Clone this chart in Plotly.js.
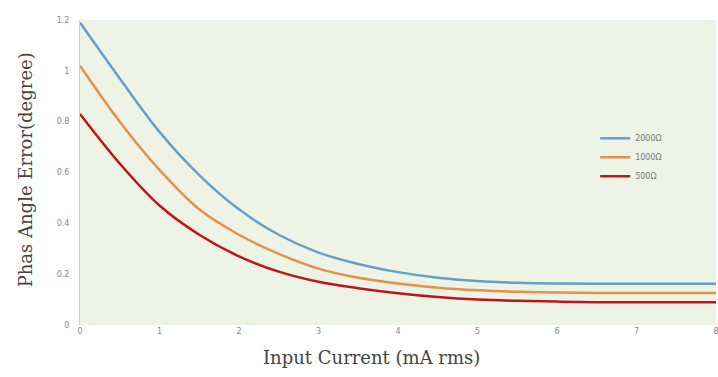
<!DOCTYPE html>
<html>
<head>
<meta charset="utf-8">
<script src="https://cdn.plot.ly/plotly-3.0.1.min.js"></script>
<style>html,body{margin:0;padding:0;background:#fff;}#chart{width:718px;height:377px;}</style>
</head>
<body>
<div id="chart"></div>
<script>
const current = [0, 0.5, 1, 1.5, 2, 2.5, 3, 3.5, 4, 4.5, 5, 5.5, 6, 6.5, 7, 7.5, 8];
const err2000 = [1.19, 0.97, 0.76, 0.59, 0.455, 0.355, 0.285, 0.24, 0.208, 0.186, 0.173, 0.166, 0.163, 0.162, 0.162, 0.162, 0.162];
const err1000 = [1.02, 0.80, 0.61, 0.455, 0.355, 0.28, 0.222, 0.186, 0.163, 0.147, 0.137, 0.131, 0.128, 0.126, 0.126, 0.126, 0.126];
const err500  = [0.83, 0.635, 0.47, 0.355, 0.27, 0.21, 0.17, 0.145, 0.125, 0.11, 0.10, 0.095, 0.092, 0.09, 0.09, 0.09, 0.09];
const seriesNames = ['2000Ω', '1000Ω', '500Ω'];
const xTicks = [0, 1, 2, 3, 4, 5, 6, 7, 8];
const yTicks = [0, 0.2, 0.4, 0.6, 0.8, 1, 1.2];
const xTitle = 'Input Current (mA rms)';
const yTitle = 'Phas Angle Error(degree)';

const colors = ['#679fc9', '#e8904a', '#c0141c'];
const ys = [err2000, err1000, err500];
const traces = ys.map((y, i) => ({
  x: current, y: y, name: seriesNames[i], type: 'scatter', mode: 'lines',
  line: {color: colors[i], width: 2.5, shape: 'spline', smoothing: 1}
}));

const layout = {
  width: 718, height: 377,
  margin: {l: 80, r: 2, t: 20, b: 52},
  paper_bgcolor: '#ffffff',
  plot_bgcolor: '#eef4e5',
  showlegend: true,
  legend: {x: 0.81, y: 0.66, xanchor: 'left', yanchor: 'top', bgcolor: 'rgba(0,0,0,0)',
           font: {size: 8, color: '#777', family: 'DejaVu Sans'}, tracegroupgap: 10, itemwidth: 30},
  xaxis: {
    range: [0, 8], tickvals: xTicks, ticktext: xTicks.map(String), ticklabeloverflow: 'allow',
    showgrid: false, zeroline: false, showline: false, ticks: '',
    tickfont: {size: 8, color: '#888', family: 'DejaVu Sans'}
  },
  yaxis: {
    range: [0, 1.2], tickvals: yTicks, ticktext: yTicks.map(String),
    showgrid: false, zeroline: false, showline: true, linecolor: '#d0d0d0', linewidth: 1, ticks: '',
    tickfont: {size: 8, color: '#888', family: 'DejaVu Sans'}, ticklabelstandoff: 8
  },
  annotations: [
    {text: xTitle, xref: 'paper', yref: 'paper', x: 0.459, y: -0.108, xanchor: 'center', yanchor: 'middle',
     showarrow: false, font: {size: 18, color: '#444', family: 'DejaVu Serif'}},
    {text: yTitle, xref: 'paper', yref: 'paper', x: -0.086, y: 0.508, xanchor: 'center', yanchor: 'middle',
     textangle: -90, showarrow: false, font: {size: 18, color: '#444', family: 'DejaVu Serif'}}
  ]
};
Plotly.newPlot('chart', traces, layout, {displayModeBar: false, staticPlot: true});
</script>
</body>
</html>
